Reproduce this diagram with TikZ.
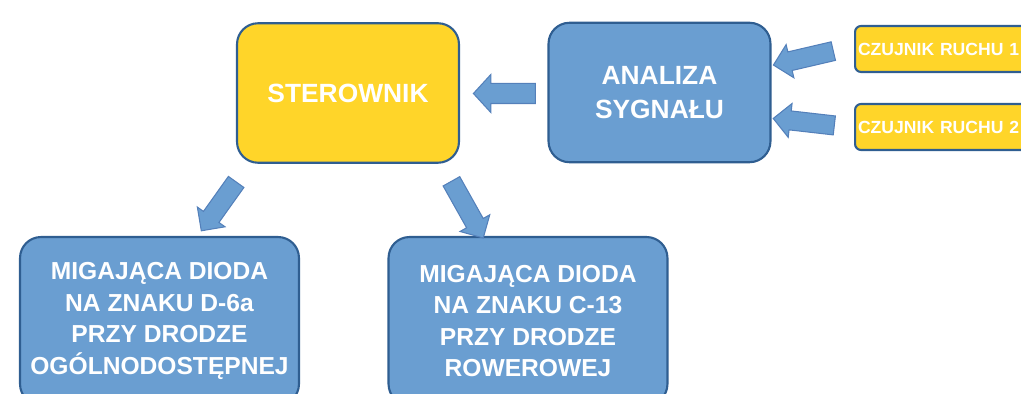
\documentclass[tikz,border=0pt]{standalone}
\usepackage{fontspec}
\setmainfont{Liberation Sans}
\usetikzlibrary{shapes.arrows}

\definecolor{zolty}{RGB}{255,213,41}
\definecolor{niebieski}{RGB}{106,158,209}
\definecolor{ramka}{RGB}{47,94,145}
\definecolor{obwodka}{RGB}{84,128,186}

\begin{document}
\begin{tikzpicture}[x=0.02cm,y=-0.02cm,
	blok/.style={draw=ramka,line width=1.2pt,rounded corners=0.42cm,text=white,font=\bfseries,align=center,inner sep=0pt},
	duzy/.style={blok,minimum width=4.44cm,minimum height=2.79cm,font=\bfseries\fontsize{15}{19}\selectfont},
	dolny/.style={blok,fill=niebieski,minimum width=5.58cm,minimum height=3.36cm,font=\bfseries\fontsize{14}{18}\selectfont},
	czujnik/.style={blok,fill=zolty,rounded corners=0.12cm,anchor=west,minimum height=0.92cm,text width=3.4cm,inner xsep=0.06cm,align=left,font=\bfseries\fontsize{10}{12}\selectfont},
	strz/.style={single arrow,draw=obwodka,fill=niebieski,line width=0.6pt,inner xsep=0pt,inner ysep=0.18cm,single arrow head extend=0.15cm,single arrow tip angle=90}]
	\useasboundingbox (0,0) rectangle (1021,394);
	
	% Draw the main blocks
	\node[duzy,fill=zolty] (ster) at (348,93) {STEROWNIK};
	\node[duzy,fill=niebieski] (analiza) at (659.5,92.5) {ANALIZA\\SYGNAŁU};
	
	% Draw the sensors
	\node[czujnik] (cz1) at (854,49) {CZUJNIK RUCHU 1};
	\node[czujnik] (cz2) at (854,127) {CZUJNIK RUCHU 2};
	
	% Draw the diodes
	\node[dolny] (d6a) at (159.5,321) {MIGAJĄCA DIODA\\NA ZNAKU D-6a\\PRZY DRODZE\\OGÓLNODOSTĘPNEJ};
	\node[dolny] (c13) at (528,321) {MIGAJĄCA DIODA\\NA ZNAKU C-13\\PRZY DRODZE\\ROWEROWEJ};
	
	% Block arrows between the blocks
	\node[strz,rotate=180,minimum height=1.24cm,inner ysep=0.19cm,single arrow head extend=0.18cm,single arrow tip angle=95] (s0) at (509,93.5) {};
	\node[strz,rotate=193.1,minimum height=1.23cm] (s1) at (808,57) {};
	\node[strz,rotate=173.5,minimum height=1.23cm] (s2) at (808.5,122.5) {};
	\node[strz,rotate=234.5,minimum height=1.2cm] (s3) at (221.5,202.5) {};
	\node[strz,rotate=299.3,minimum height=1.3cm] (s4) at (465,205.5) {};
\end{tikzpicture}
\end{document}
